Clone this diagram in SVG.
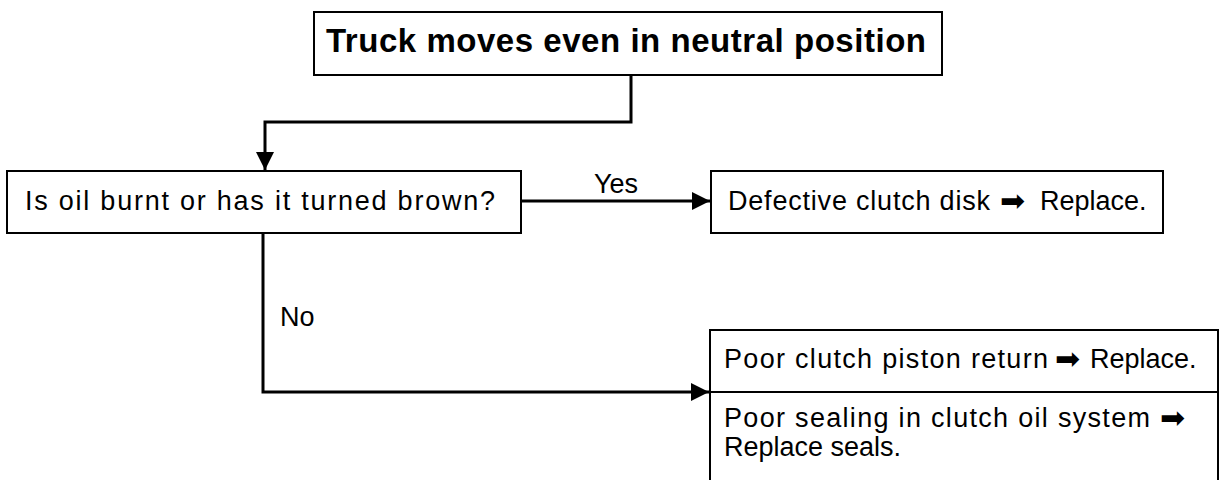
<svg xmlns="http://www.w3.org/2000/svg" width="1220" height="480" viewBox="0 0 1220 480">
  <style>
    .box { fill: #ffffff; stroke: #000000; stroke-width: 2; }
    .edge { fill: none; stroke: #000000; stroke-width: 3; }
    .t { font-family: "Liberation Sans", Arial, sans-serif; font-size: 27px; fill: #000000; }
    .title { font-family: "Liberation Sans", Arial, sans-serif; font-size: 33px; font-weight: bold; fill: #000000; }
    .sym { font-family: "DejaVu Sans", sans-serif; font-size: 30px; fill: #000000; }
  </style>
  <defs>
    <marker id="head" markerUnits="userSpaceOnUse" markerWidth="18" markerHeight="18" refX="18" refY="9" orient="auto">
      <path d="M0,0 L18,9 L0,18 z" fill="#000000"/>
    </marker>
  </defs>
  <rect width="1220" height="480" fill="#ffffff"/>

  <!-- connectors -->
  <g id="connectors">
    <path class="edge" d="M631,75 V122 H265 V170" marker-end="url(#head)"/>
    <path class="edge" d="M521,201 H710" marker-end="url(#head)"/>
    <text class="t" x="594" y="193" font-size="26">Yes</text>
    <path class="edge" d="M263,233 V392 H709" marker-end="url(#head)"/>
    <text class="t" x="280" y="326" font-size="26">No</text>
  </g>

  <!-- start symptom -->
  <g id="symptom">
    <rect class="box" x="314" y="12" width="628" height="63"/>
    <text class="title" x="326" y="52" textLength="600">Truck moves even in neutral position</text>
  </g>

  <!-- question -->
  <g id="question">
    <rect class="box" x="7" y="171" width="514" height="62"/>
    <text class="t" x="25" y="210" font-size="28" textLength="470">Is oil burnt or has it turned brown?</text>
  </g>

  <!-- yes result -->
  <g id="result-yes">
    <rect class="box" x="711" y="171" width="452" height="62"/>
    <text class="t" x="728" y="210" textLength="262">Defective clutch disk</text>
    <text class="sym" x="1000" y="211">➡</text>
    <text class="t" x="1040" y="210">Replace.</text>
  </g>

  <!-- no results -->
  <g id="result-no">
    <rect class="box" x="710" y="330" width="508" height="62"/>
    <text class="t" x="724" y="368" textLength="324">Poor clutch piston return</text>
    <text class="sym" x="1055" y="369">➡</text>
    <text class="t" x="1090" y="368">Replace.</text>
    <path class="box" d="M710,392 V482 M1218,392 V482" fill="none"/>
    <text class="t" x="724" y="427" textLength="426">Poor sealing in clutch oil system</text>
    <text class="sym" x="1160" y="428">➡</text>
    <text class="t" x="724" y="456">Replace seals.</text>
  </g>
</svg>
